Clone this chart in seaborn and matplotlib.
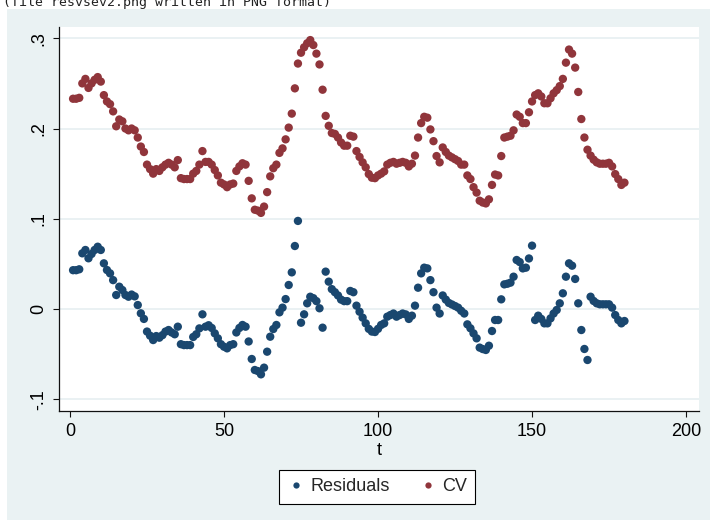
import matplotlib
matplotlib.use('Agg')
import matplotlib.pyplot as plt
from matplotlib.patches import Rectangle
import seaborn as sns
import pandas as pd

t = list(range(1, 181))

cv = [
    .233, .233, .234, .250, .255, .245, .250, .254, .257, .252,
    .237, .230, .227, .219, .2025, .210, .208, .200, .198, .200,
    .198, .190, .180, .174, .160, .155, .150, .155, .153, .157,
    .160, .162, .160, .157, .165, .145, .144, .144, .144, .150,
    .153, .160, .175, .163, .163, .160, .154, .148, .140, .138,
    .135, .138, .139, .153, .158, .1615, .160, .142, .1226, .110,
    .109, .1065, .1135, .1295, .147, .156, .160, .173, .178, .188,
    .201, .2165, .2445, .272, .284, .290, .2945, .298, .2925, .283,
    .271, .243, .214, .203, .195, .194, .190, .1845, .181, .181,
    .192, .191, .175, .1685, .1625, .157, .1495, .1455, .145, .148,
    .150, .1525, .160, .162, .163, .161, .162, .163, .162, .158,
    .161, .170, .190, .206, .213, .212, .199, .186, .1695, .1625,
    .179, .174, .170, .168, .166, .164, .160, .160, .148, .144,
    .135, .129, .120, .118, .117, .1215, .1375, .149, .148, .1695,
    .190, .191, .192, .198, .2155, .213, .206, .206, .218, .230,
    .237, .239, .2355, .228, .228, .2335, .239, .2425, .247, .255,
    .273, .2875, .283, .2675, .2405, .2105, .190, .1765, .170, .1655,
    .1625, .161, .161, .161, .162, .158, .1495, .144, .1375, .140,
]

resid = [
    .043, .043, .044, .0617, .0654, .0562, .061, .0654, .069, .0654,
    .0506, .0432, .0395, .032, .0155, .0247, .021, .0155, .0136, .016,
    .014, .0044, -.0048, -.011, -.025, -.0296, -.0344, -.030, -.0318, -.029,
    -.025, -.0233, -.026, -.028, -.0196, -.039, -.040, -.040, -.040, -.031,
    -.028, -.0215, -.0059, -.0196, -.018, -.021, -.027, -.0325, -.039, -.0418,
    -.0436, -.040, -.039, -.026, -.021, -.0177, -.0196, -.036, -.0554, -.0676,
    -.0688, -.0724, -.065, -.0473, -.0307, -.0222, -.0177, -.0037, .0015, .011,
    .0266, .0406, .0698, .0976, -.0152, -.0059, .0063, .0136, .012, .0087,
    .0008, -.0207, .0414, .0303, .022, .0186, .015, .0104, .0087, .0087,
    .020, .0186, .0037, -.003, -.0096, -.0159, -.022, -.025, -.0255, -.022,
    -.0177, -.0159, -.0085, -.0067, -.005, -.0085, -.0067, -.005, -.006, -.011,
    -.0074, .0037, .0236, .0395, .0458, .045, .032, .0186, .0015, -.005,
    .015, .0104, .0067, .005, .0033, .0015, -.002, -.005, -.017, -.0214,
    -.027, -.0325, -.0428, -.0444, -.0454, -.0407, -.0244, -.0122, -.0122, .0107,
    .0273, .028, .0292, .0358, .0543, .052, .045, .0458, .056, .0702,
    -.0122, -.0074, -.011, -.0159, -.0159, -.0104, -.005, -.0011, .0063, .0174,
    .0358, .0506, .048, .0333, .0063, -.0233, -.0443, -.0565, .0136, .0089,
    .0063, .0052, .0052, .0052, .0052, .0015, -.0067, -.0122, -.0159, -.0133,
]

series = ['Residuals', 'CV']
colors = {'Residuals': '#1a476f', 'CV': '#90353b'}
xticks = [0, 50, 100, 150, 200]
yticks = [-.1, 0, .1, .2, .3]
ylabels = ['-.1', '0', '.1', '.2', '.3']

df = pd.DataFrame({
    't': t + t,
    'value': resid + cv,
    'series': ['Residuals'] * len(t) + ['CV'] * len(t),
})

sns.set_theme(style='white')
plt.rcParams['font.family'] = ['Liberation Sans', 'DejaVu Sans']

fig = plt.figure(figsize=(7.1, 5.2), dpi=100, facecolor='white')
fig.add_artist(Rectangle((7 / 710, 0), 1, 511 / 520, transform=fig.transFigure,
                         facecolor='#eaf2f3', edgecolor='none', zorder=0))
# stray log line at the very top of the image
fig.text(3 / 710, 1 - 6 / 520, '(file resvsev2.png written in PNG format)',
         family='DejaVu Sans Mono', fontsize=9.5, va='baseline', color='#222222')

ax = fig.add_axes([59 / 710, (520 - 410.7) / 520, 640 / 710, (410.7 - 27) / 520])
ax.set_facecolor('white')

sns.scatterplot(data=df, x='t', y='value', hue='series', hue_order=series,
                palette=colors, s=36, linewidth=0, ax=ax, zorder=3)

ax.set_xlim(-3.57, 204.2)
ax.set_ylim(-0.1127, 0.3125)
ax.set_xticks(xticks)
ax.set_xticklabels([str(x) for x in xticks])
ax.set_yticks(yticks)
ax.set_yticklabels(ylabels, rotation=90, va='center')
ax.yaxis.grid(True, color='#e6eff1', lw=1.2)
ax.xaxis.grid(False)
ax.set_axisbelow(True)

for s in ['top', 'right']:
    ax.spines[s].set_visible(False)
for s in ['left', 'bottom']:
    ax.spines[s].set_color('#111111')
    ax.spines[s].set_linewidth(0.9)

ax.tick_params(axis='both', bottom=True, left=True, direction='out', length=4.5,
               width=0.8, color='#111111', labelsize=13, labelcolor='black', pad=4)
ax.set_xlabel('t', fontsize=13, labelpad=2, color='black')
ax.set_ylabel('')

sns.move_legend(ax, 'center', bbox_to_anchor=(0.531, 0.0635), bbox_transform=fig.transFigure,
                ncol=2, title=None, frameon=True, fontsize=13, handletextpad=0.3,
                columnspacing=1.6, borderpad=0.45, fancybox=False, framealpha=1,
                edgecolor='black', markerscale=0.75, handlelength=1.0)
leg = ax.get_legend()
leg.get_frame().set_linewidth(0.8)

fig.savefig('out.png', dpi=100, facecolor=fig.get_facecolor())
